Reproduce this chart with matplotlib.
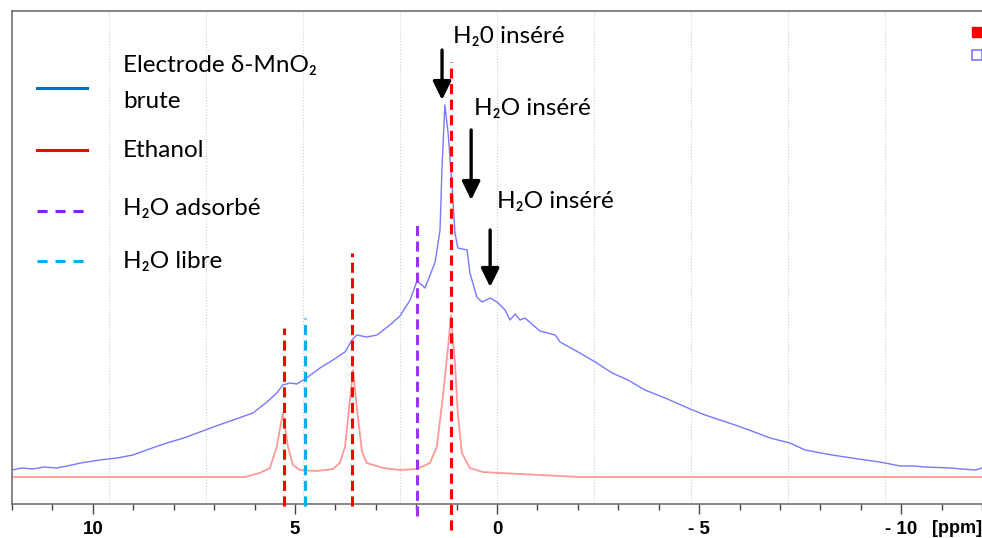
import numpy as np
import matplotlib
matplotlib.use('Agg')
import matplotlib.pyplot as plt
from matplotlib.ticker import MultipleLocator, FuncFormatter

# spectre RMN 1H : electrode brute (bleu) et ethanol (rouge)
ppm_electrode = [12.00, 11.75, 11.49, 11.20, 10.90, 10.64, 10.30, 9.83, 9.40, 9.01,
                 8.60, 8.17, 7.75, 7.35, 6.95, 6.53, 6.04, 5.69, 5.45,
                 5.30, 5.12, 4.95, 4.75, 4.38, 4.06, 3.76, 3.59, 3.47, 3.22, 2.97,
                 2.65, 2.40, 2.15, 1.98, 1.78, 1.53, 1.41, 1.36, 1.29, 1.21, 1.11,
                 1.04, 0.97, 0.74, 0.67, 0.50, 0.37, 0.17, 0.00, -0.20, -0.32, -0.45,
                 -0.57, -0.69, -1.06, -1.44, -1.56, -2.05, -2.43, -2.85, -3.24, -3.66,
                 -4.16, -4.78, -5.15, -5.89, -6.30, -6.76, -7.05, -7.25, -7.62, -8.29,
                 -8.94, -9.30, -9.60, -9.98, -10.30, -10.59, -11.21, -11.50, -11.83, -12.00]
int_electrode = [34, 36, 35, 37, 36, 38, 41, 44, 46, 49,
                 55, 61, 66, 72, 78, 84, 91, 102, 111,
                 119, 121, 120, 125, 136, 144, 152, 164, 169, 167, 169,
                 179, 188, 204, 223, 216, 242, 274, 337, 399, 371, 317,
                 271, 256, 254, 231, 207, 202, 206, 202, 194, 184, 190,
                 184, 186, 173, 169, 162, 151, 142, 131, 124, 114,
                 106, 95, 89, 79, 73, 66, 63, 61, 54, 49,
                 45, 43, 41, 38, 38, 37, 36, 35, 34, 36]

ppm_ethanol = [12.00, 6.24, 5.87, 5.62, 5.45, 5.30, 5.17, 5.05, 4.88, 4.46, 4.06,
               3.89, 3.76, 3.64, 3.56, 3.47, 3.34, 3.22, 2.82, 2.40, 1.98, 1.66,
               1.49, 1.34, 1.21, 1.14, 1.04, 0.97, 0.87, 0.67, 0.35, -0.07, -1.06,
               -2.05, -12.00]
int_ethanol = [27, 27, 31, 36, 57, 91, 57, 39, 34, 33, 35,
               41, 57, 104, 134, 97, 52, 41, 36, 34, 35, 41,
               57, 107, 157, 189, 141, 91, 51, 36, 32, 31, 29,
               27, 27]

# lignes de reference (ppm, bas, haut, couleur)
ref_ppm = [5.28, 4.75, 3.59, 1.98, 1.14]
ref_bas = [-2, -2, -2, -12, -26]
ref_haut = [176, 186, 251, 282, 442]
ref_couleur = ['#FF0000', '#00B0F0', '#FF0000', '#9B30FF', '#FF0000']

# fleches "H2O insere"
fleche_ppm = [1.36, 0.64, 0.17]
fleche_haut = [454, 374, 274]
fleche_bas = [404, 304, 217]
texte_fleche = ['H₂0 inséré', 'H₂O inséré', 'H₂O inséré']
texte_ppm = [1.09, 0.57, 0.00]
texte_y = [461, 389, 296]

# legende
noms = ['Electrode δ-MnO₂', 'Ethanol', 'H₂O adsorbé', 'H₂O libre']
couleurs_leg = ['#0070C0', '#FF0000', '#7F1FFF', '#00B0F0']
tirets_leg = [False, False, True, True]

police = ['Lato', 'DejaVu Sans']

fig = plt.figure(figsize=(9.82, 5.38), dpi=100)
ax = fig.add_axes([12 / 982, 34 / 538, 970 / 982, 493 / 538])

for k in range(1, 10):
    ax.plot([k / 10, k / 10], [0, 1], transform=ax.transAxes, ls=':', lw=0.8,
            color='#cfcfcf', zorder=0)

ax.plot(ppm_ethanol, int_ethanol, color='#FF9999', lw=1.3, zorder=2)
ax.plot(ppm_electrode, int_electrode, color='#7878FF', lw=1.0, zorder=2)

for p, b, h, c in zip(ref_ppm, ref_bas, ref_haut, ref_couleur):
    ax.plot([p, p], [b, h], color=c, lw=2.2, dashes=(3.3, 1.8), clip_on=False, zorder=3)

for p, h, b in zip(fleche_ppm, fleche_haut, fleche_bas):
    ax.annotate('', xy=(p, b), xytext=(p, h),
                arrowprops=dict(arrowstyle='-|>,head_length=0.45,head_width=0.22',
                                mutation_scale=25, lw=2.4, color='black',
                                shrinkA=0, shrinkB=0))
for t, p, y in zip(texte_fleche, texte_ppm, texte_y):
    ax.text(p, y, t, fontsize=17.5, family=police, ha='left', va='baseline')

ax.set_xlim(12, -12)
ax.set_ylim(0, 493)

ax.xaxis.set_major_locator(MultipleLocator(5))
ax.xaxis.set_minor_locator(MultipleLocator(1))
ax.xaxis.set_major_formatter(FuncFormatter(lambda v, pos: f'- {abs(v):g}' if v < 0 else f'{v:g}'))
ax.tick_params(axis='x', which='major', length=7.2, width=1.0, color='#444444', pad=5)
ax.tick_params(axis='x', which='minor', length=4.3, width=1.0, color='#444444')
ax.tick_params(axis='y', left=False, labelleft=False)
for lab in ax.get_xticklabels():
    lab.set_fontweight('bold')
    lab.set_fontsize(13.5)
    lab.set_family('Liberation Sans')
ax.text(0.974, -0.049, '[ppm]', transform=ax.transAxes, ha='center', va='center',
        fontsize=13, fontweight='bold', family='Liberation Sans')

for s in ['left', 'top', 'bottom']:
    ax.spines[s].set_color('#666666')
    ax.spines[s].set_linewidth(1.1)
ax.spines['right'].set_visible(False)

# marqueurs coupes en haut a droite
ax.plot([0.995], [0.958], marker='s', ms=7, color='#FF0000', transform=ax.transAxes, clip_on=False)
ax.plot([0.995], [0.910], marker='s', ms=7, mfc='white', mec='#7878FF', mew=1.2,
        transform=ax.transAxes, clip_on=False)

# legende dessinee a la main (comme sur la diapositive)
leg_y_trait = [0.8438, 0.718, 0.594, 0.493]
leg_y_texte = [0.8763, 0.7039, 0.5862, 0.4787]
for nom, c, tir, yt, yx in zip(noms, couleurs_leg, tirets_leg, leg_y_trait, leg_y_texte):
    ligne, = ax.plot([0.0258, 0.0773], [yt, yt], color=c, lw=2.2, transform=ax.transAxes)
    if tir:
        ligne.set_dashes((3.3, 2.6))
    ax.text(0.1144, yx, nom, transform=ax.transAxes, fontsize=17.5, family=police,
            ha='left', va='baseline')
ax.text(0.1144, 0.8032, 'brute', transform=ax.transAxes, fontsize=17.5, family=police,
        ha='left', va='baseline')

fig.savefig('out.png', dpi=100)
